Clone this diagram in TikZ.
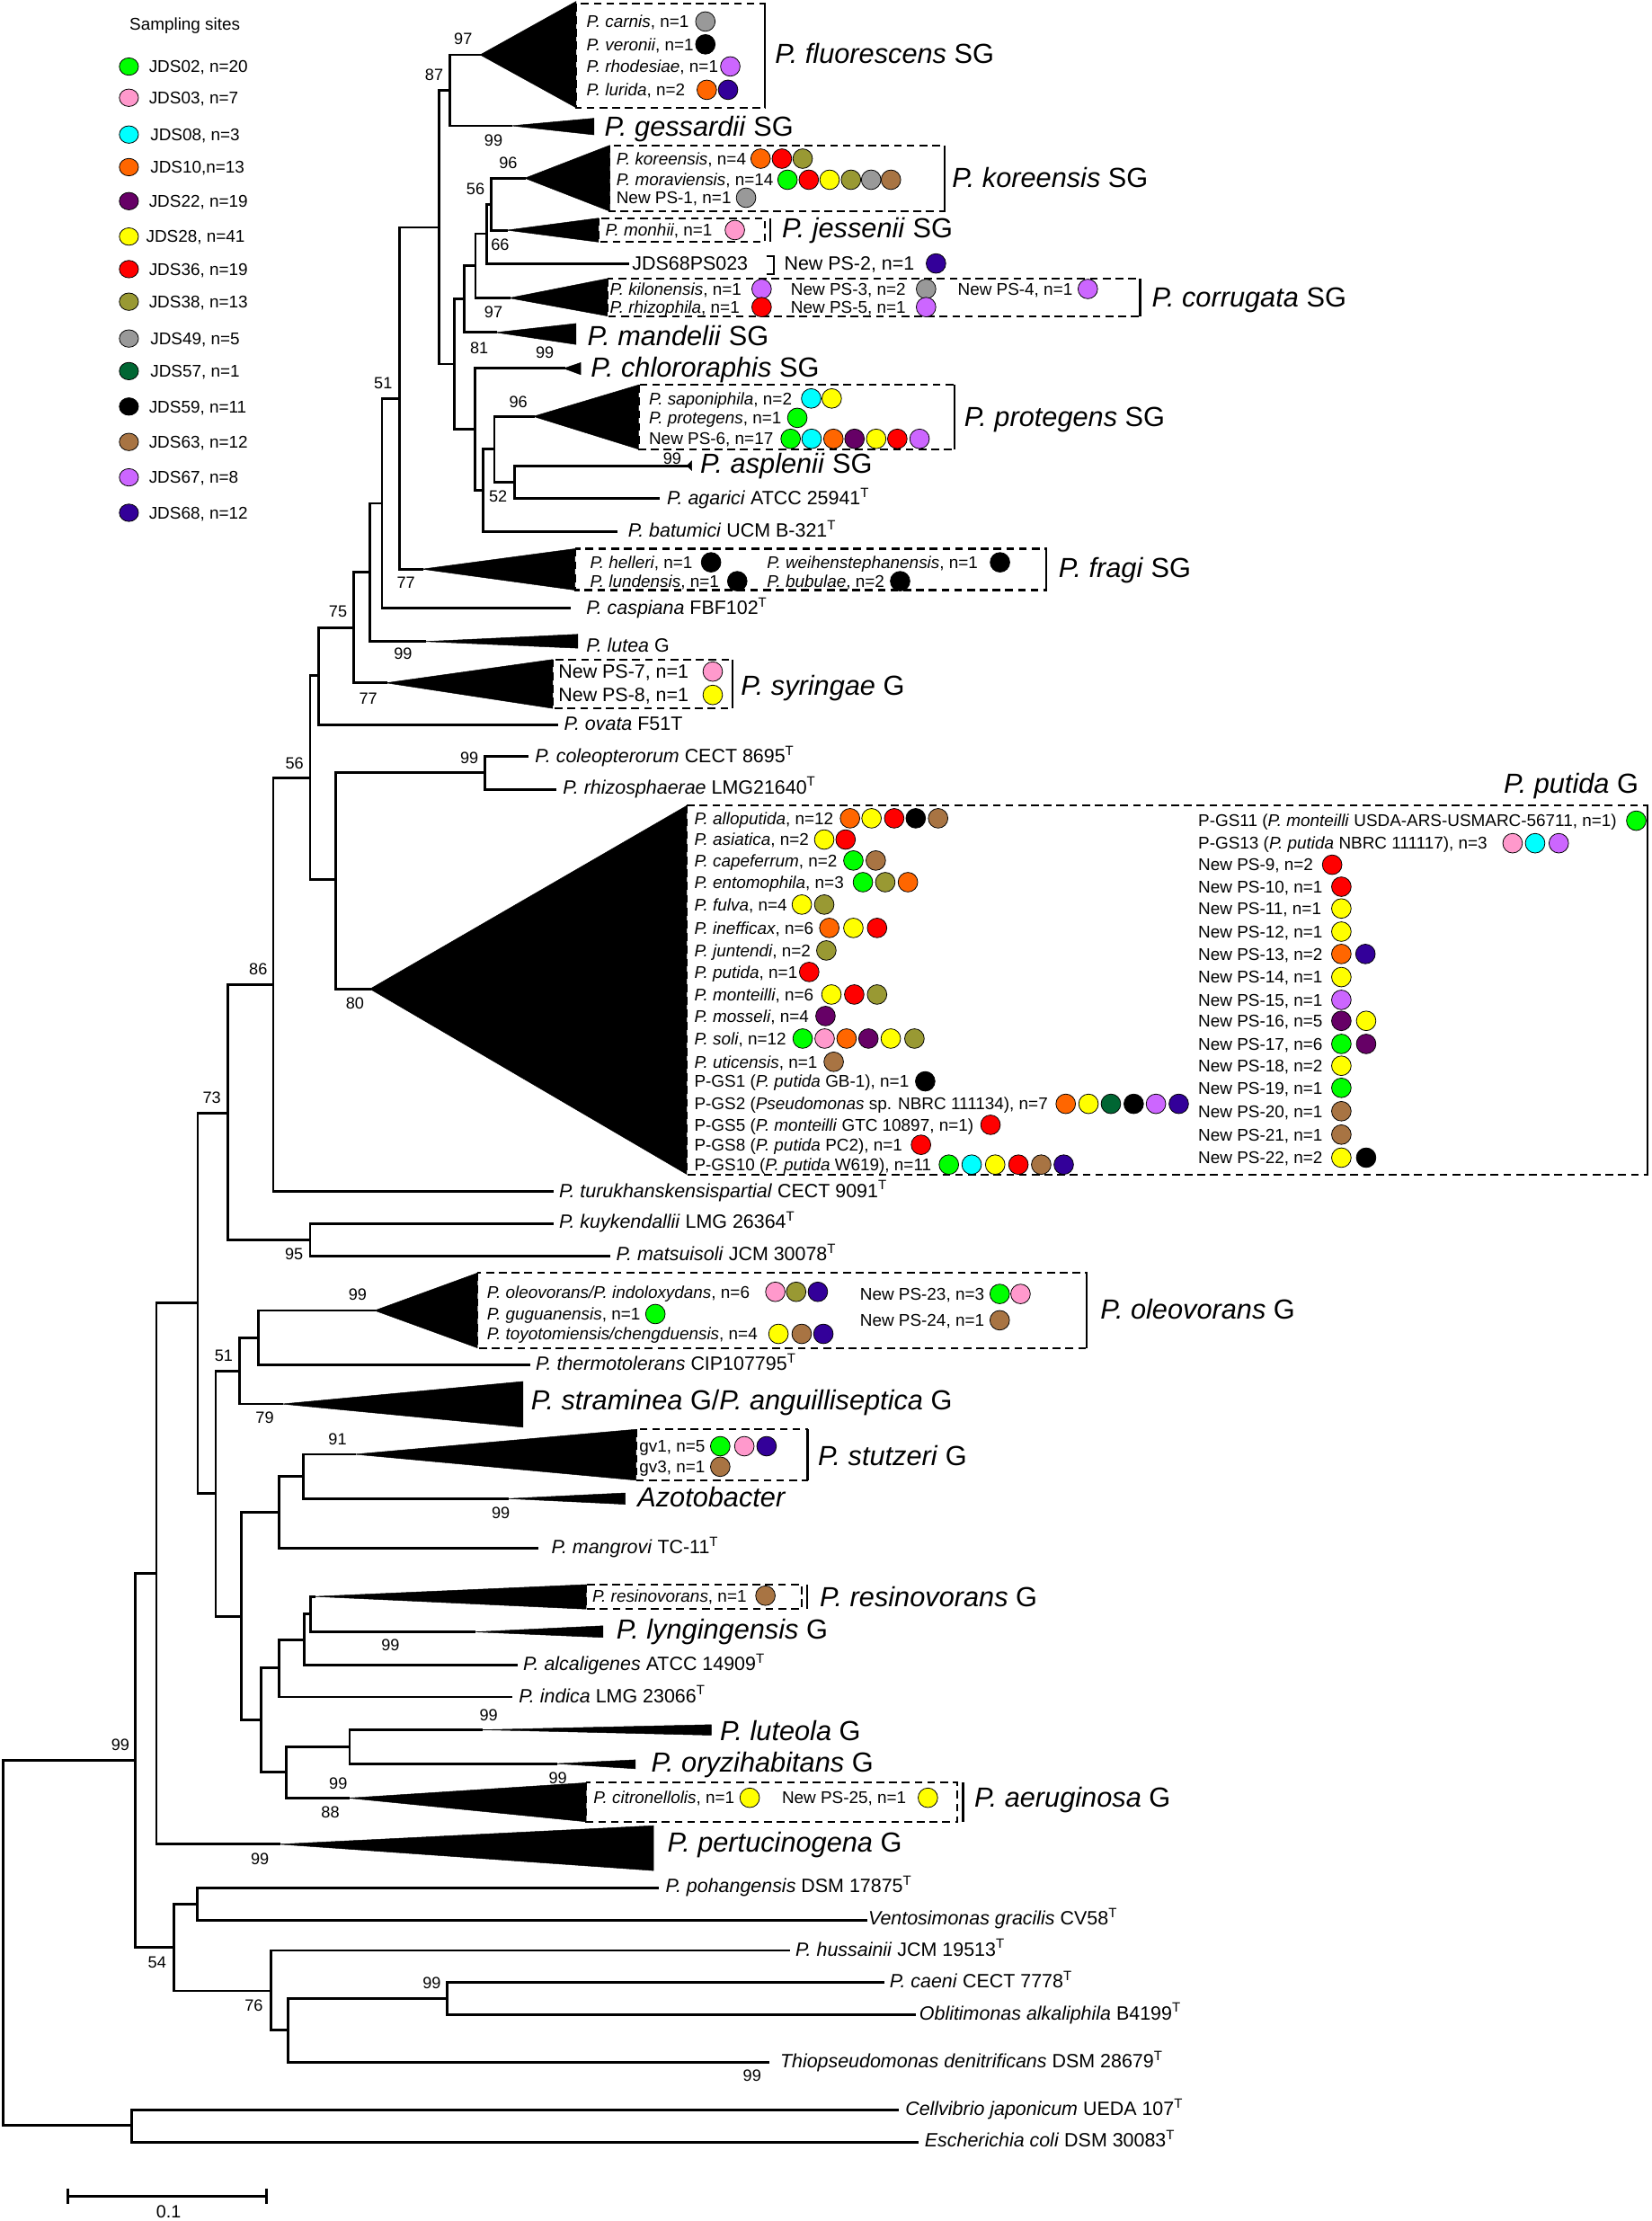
\documentclass[tikz,border=0pt]{standalone}
\usepackage{fontspec}
\setmainfont{Liberation Sans}
\usetikzlibrary{shapes.geometric}

\definecolor{s02}{HTML}{00FF00}
\definecolor{s03}{HTML}{FF99CC}
\definecolor{s08}{HTML}{00FFFF}
\definecolor{s10}{HTML}{FF6600}
\definecolor{s22}{HTML}{660066}
\definecolor{s28}{HTML}{FFFF00}
\definecolor{s36}{HTML}{FF0000}
\definecolor{s38}{HTML}{999933}
\definecolor{s49}{HTML}{999999}
\definecolor{s57}{HTML}{006633}
\definecolor{s59}{HTML}{000000}
\definecolor{s63}{HTML}{A87443}
\definecolor{s67}{HTML}{CC66FF}
\definecolor{s68}{HTML}{330099}

\newcommand{\siterow}[6][rowtext]{%
  \node[#1] (#2) at (#3,#4) {#5};
  \foreach \cx/\cc [count=\ci] in {#6} {\node[site, fill=\cc] (#2-\ci) at (\cx,#4) {};}%
}
\newcommand{\clade}[4]{\filldraw[line width=0.3pt] (#1) -- (#2,#3) -- (#2,#4) -- cycle;}
\newcommand{\grpbox}[5]{%
  \draw[boxline] (#1,#2) rectangle (#3,#4);
  \draw[barline] ({#3+#5},#2) -- ({#3+#5},#4);
}

\begin{document}
\begin{tikzpicture}[x=1pt, y=-1pt,
  branch/.style={line width=1.8pt, line cap=rect},
  boxline/.style={line width=1.3pt, dash pattern=on 5.5pt off 3.5pt},
  barline/.style={line width=1.5pt},
  site/.style={circle, draw=black, line width=0.5pt, minimum size=13.8pt, inner sep=0pt},
  keysite/.style={ellipse, draw=black, line width=0.5pt, minimum width=13.5pt, minimum height=12.3pt, inner sep=0pt},
  bsv/.style={inner sep=0pt, text height=8.2pt, text depth=0pt, font=\fontsize{11.5}{13}\selectfont},
  leaf/.style={anchor=west, inner sep=0pt, text height=9.7pt, text depth=0pt, font=\fontsize{13.6}{15}\selectfont},
  rowtext/.style={anchor=west, inner sep=0pt, text height=8.6pt, text depth=0pt, font=\fontsize{12}{14}\selectfont},
  keytext/.style={anchor=west, inner sep=0pt, text height=8.6pt, text depth=0pt, font=\fontsize{12}{14}\selectfont},
  cladename/.style={anchor=west, inner sep=0pt, text height=14pt, text depth=0pt, font=\fontsize{19.5}{22}\selectfont}]

\useasboundingbox (0,0) rectangle (1166,1568);

% legend
\node[keytext, anchor=center] (keytitle) at (130.5,17) {Sampling sites};
\node[keysite, fill=s02] (key1) at (91,47) {};
\node[keysite, fill=s03] (key2) at (91,69) {};
\node[keysite, fill=s08] (key3) at (91,95) {};
\node[keysite, fill=s10] (key4) at (91,118) {};
\node[keysite, fill=s22] (key5) at (91,142) {};
\node[keysite, fill=s28] (key6) at (91,167) {};
\node[keysite, fill=s36] (key7) at (91,190) {};
\node[keysite, fill=s38] (key8) at (91,213) {};
\node[keysite, fill=s49] (key9) at (91,239) {};
\node[keysite, fill=s57] (key10) at (91,262) {};
\node[keysite, fill=s59] (key11) at (91,287) {};
\node[keysite, fill=s63] (key12) at (91,312) {};
\node[keysite, fill=s67] (key13) at (91,337) {};
\node[keysite, fill=s68] (key14) at (91,362) {};
\node[keytext] (keylab1) at (105,47) {JDS02, n=20};
\node[keytext] (keylab2) at (105,69) {JDS03, n=7};
\node[keytext] (keylab3) at (106,95) {JDS08, n=3};
\node[keytext] (keylab4) at (106,118) {JDS10,n=13};
\node[keytext] (keylab5) at (105,142) {JDS22, n=19};
\node[keytext] (keylab6) at (103,167) {JDS28, n=41};
\node[keytext] (keylab7) at (105,190) {JDS36, n=19};
\node[keytext] (keylab8) at (105,213) {JDS38, n=13};
\node[keytext] (keylab9) at (106,239) {JDS49, n=5};
\node[keytext] (keylab10) at (106,262) {JDS57, n=1};
\node[keytext] (keylab11) at (105,287) {JDS59, n=11};
\node[keytext] (keylab12) at (105,312) {JDS63, n=12};
\node[keytext] (keylab13) at (105,337) {JDS67, n=8};
\node[keytext] (keylab14) at (105,362) {JDS68, n=12};

% internal nodes
\coordinate (root) at (2,1372);
\coordinate (nIn) at (95.6,1242.6);
\coordinate (nOut) at (92.9,1500.5);
\coordinate (nL) at (110.4,1110.9);
\coordinate (nK) at (139.6,920);
\coordinate (nI) at (160.7,786);
\coordinate (nH) at (192.9,695.2);
\coordinate (nF) at (218.9,549.2);
\coordinate (nG) at (236.9,621.1);
\coordinate (nE) at (225.2,477);
\coordinate (nD) at (249.6,443.3);
\coordinate (nC) at (261.2,403.9);
\coordinate (nB) at (269.7,355.3);
\coordinate (nA) at (282.2,281.3);
\coordinate (nUp) at (310,160.5);
\coordinate (nFl) at (317.4,63.8);
\coordinate (nMid) at (321,257);
\coordinate (nMa) at (327.9,211);
\coordinate (nCo) at (335.7,187.5);
\coordinate (nJd) at (343.6,165);
\coordinate (nKo) at (346.8,144.2);
\coordinate (nCh) at (335.3,303);
\coordinate (nBa) at (341.1,346);
\coordinate (nPr) at (349,317.2);
\coordinate (nAs) at (363.5,340.5);
\coordinate (nCl) at (342.3,545.5);
\coordinate (nJ) at (218.9,875.3);
\coordinate (nO) at (152.3,1054.4);
\coordinate (nP) at (168.9,967.8);
\coordinate (nQ) at (182.5,944.4);
\coordinate (nR) at (170.2,1141.2);
\coordinate (nS) at (197.1,1067.6);
\coordinate (nT) at (214,1042.3);
\coordinate (nU) at (184.4,1214);
\coordinate (nV) at (197.1,1177.3);
\coordinate (nW) at (215,1157.5);
\coordinate (nX) at (219.2,1139.6);
\coordinate (nY) at (202.2,1251.1);
\coordinate (nZ) at (246.8,1233.2);
\coordinate (n54) at (122.9,1374.9);
\coordinate (n139) at (139.3,1344.1);
\coordinate (n76) at (191.2,1405.5);
\coordinate (n203) at (203.2,1433.3);
\coordinate (n316) at (315.7,1410.8);

% collapsed clades (apex)
\coordinate (aFlu) at (339,38.7);
\coordinate (aGes) at (361,88.8);
\coordinate (aKor) at (370.5,125.8);
\coordinate (aJes) at (357.8,162.5);
\coordinate (aCor) at (359.4,210.4);
\coordinate (aMan) at (350,234.7);
\coordinate (aChl) at (398,260.1);
\coordinate (aPro) at (376.5,294);
\coordinate (aAsp) at (485,328.8);
\coordinate (aFra) at (298,401.8);
\coordinate (aLut) at (300,452.9);
\coordinate (aSyr) at (272.5,482.1);
\coordinate (aPut) at (261.2,698.2);
\coordinate (aOle) at (264.5,925.2);
\coordinate (aStr) at (199,991.2);
\coordinate (aStu) at (250.2,1026.7);
\coordinate (aAzo) at (358.5,1058);
\coordinate (aRes) at (222,1127.1);
\coordinate (aLyn) at (335,1152.1);
\coordinate (aLuo) at (340,1221.2);
\coordinate (aOry) at (392.5,1245.1);
\coordinate (aAer) at (246,1269.4);
\coordinate (aPer) at (197.1,1302);

% single tips
\coordinate (tCas) at (402,429.3);
\coordinate (tOva) at (393.3,511.9);
\coordinate (tJds) at (443,186.1);
\coordinate (tBat) at (435.3,375.4);
\coordinate (tAga) at (464.8,352.1);
\coordinate (tCol) at (372.5,533.9);
\coordinate (tRhi) at (392.2,557.2);
\coordinate (tTur) at (390.1,841);
\coordinate (tKuy) at (390.1,863.8);
\coordinate (tMat) at (430,886.7);
\coordinate (tThe) at (373.7,963.7);
\coordinate (tMan) at (379,1092.9);
\coordinate (tAlc) at (364.9,1175.3);
\coordinate (tInd) at (360.7,1198);
\coordinate (tPoh) at (464.3,1332.7);
\coordinate (tVen) at (611.7,1355.5);
\coordinate (tHus) at (557,1377);
\coordinate (tCae) at (623.8,1399.4);
\coordinate (tObl) at (645.6,1422.2);
\coordinate (tThi) at (542.4,1456.1);
\coordinate (tCel) at (633.6,1489.8);
\coordinate (tEco) at (647.3,1512.5);

\draw[branch] (root) |- (nIn) (root) |- (nOut);
\draw[branch] (nIn) |- (nL) (nIn) |- (n54);
\draw[branch] (nL) |- (nK) (nL) |- (aPer);
\draw[branch] (nK) |- (nI) (nK) |- (nO);
\draw[branch] (nI) |- (nH) (nI) |- (nJ);
\draw[branch] (nH) |- (nF) (nH) |- (tTur);
\draw[branch] (nF) |- (nE) (nF) |- (nG);
\draw[branch] (nG) |- (nCl) (nG) |- (aPut);
\draw[branch] (nE) |- (nD) (nE) |- (tOva);
\draw[branch] (nD) |- (nC) (nD) |- (aSyr);
\draw[branch] (nC) |- (nB) (nC) |- (aLut);
\draw[branch] (nB) |- (nA) (nB) |- (tCas);
\draw[branch] (nA) |- (nUp) (nA) |- (aFra);
\draw[branch] (nUp) |- (nFl) (nUp) |- (nMid);
\draw[branch] (nFl) |- (aFlu) (nFl) |- (aGes);
\draw[branch] (nMid) |- (nMa) (nMid) |- (nCh);
\draw[branch] (nMa) |- (nCo) (nMa) |- (aMan);
\draw[branch] (nCo) |- (nJd) (nCo) |- (aCor);
\draw[branch] (nJd) |- (nKo) (nJd) |- (tJds);
\draw[branch] (nKo) |- (aKor) (nKo) |- (aJes);
\draw[branch] (nCh) |- (aChl) (nCh) |- (nBa);
\draw[branch] (nBa) |- (nPr) (nBa) |- (tBat);
\draw[branch] (nPr) |- (aPro) (nPr) |- (nAs);
\draw[branch] (nAs) |- (aAsp) (nAs) |- (tAga);
\draw[branch] (nCl) |- (tCol) (nCl) |- (tRhi);
\draw[branch] (nJ) |- (tKuy) (nJ) |- (tMat);
\draw[branch] (nO) |- (nP) (nO) |- (nR);
\draw[branch] (nP) |- (nQ) (nP) |- (aStr);
\draw[branch] (nQ) |- (aOle) (nQ) |- (tThe);
\draw[branch] (nR) |- (nS) (nR) |- (nU);
\draw[branch] (nS) |- (nT) (nS) |- (tMan);
\draw[branch] (nT) |- (aStu) (nT) |- (aAzo);
\draw[branch] (nU) |- (nV) (nU) |- (nY);
\draw[branch] (nV) |- (nW) (nV) |- (tInd);
\draw[branch] (nW) |- (nX) (nW) |- (tAlc);
\draw[branch] (nX) |- (aRes) (nX) |- (aLyn);
\draw[branch] (nY) |- (nZ) (nY) |- (aAer);
\draw[branch] (nZ) |- (aLuo) (nZ) |- (aOry);
\draw[branch] (n54) |- (n139) (n54) |- (n76);
\draw[branch] (n139) |- (tPoh) (n139) |- (tVen);
\draw[branch] (n76) |- (tHus) (n76) |- (n203);
\draw[branch] (n203) |- (n316) (n203) |- (tThi);
\draw[branch] (n316) |- (tCae) (n316) |- (tObl);
\draw[branch] (nOut) |- (tCel) (nOut) |- (tEco);

\clade{aFlu}{406.7}{1}{76}
\clade{aGes}{419.4}{83.5}{95.2}
\clade{aKor}{430.4}{102.6}{149.1}
\clade{aJes}{422.5}{154}{170.9}
\clade{aCor}{428.8}{196.7}{223.1}
\clade{aMan}{406.7}{228.4}{243.2}
\clade{aChl}{410}{256}{264.5}
\clade{aPro}{451}{271.7}{317.2}
\clade{aAsp}{488.3}{325.5}{332}
\clade{aFra}{405.9}{387.4}{416.6}
\clade{aLut}{407.9}{447.8}{457.6}
\clade{aSyr}{390.2}{465.6}{500.1}
\clade{aPut}{484.8}{568.8}{829}
\clade{aOle}{337.1}{898.7}{951.6}
\clade{aStr}{369.3}{975.3}{1007.6}
\clade{aStu}{449}{1009.1}{1045}
\clade{aAzo}{441.4}{1054}{1062}
\clade{aRes}{413.8}{1118.7}{1136}
\clade{aLyn}{425.7}{1147.8}{1156}
\clade{aLuo}{502.1}{1217.6}{1225}
\clade{aOry}{448.6}{1242.4}{1248.7}
\clade{aAer}{413.8}{1258.6}{1286.1}
\clade{aPer}{461.4}{1288.9}{1320.6}

\grpbox{406.7}{2.5}{540.2}{76}{0}
\grpbox{430.4}{102.6}{667}{149.1}{0}
\grpbox{422.5}{154}{540}{170.9}{4}
\grpbox{428.8}{196.7}{805}{223.1}{0}
\grpbox{451}{271.7}{674}{317.2}{0}
\grpbox{405.9}{387.4}{738.7}{416.6}{0}
\grpbox{390.2}{465.6}{517}{500.1}{0}
\grpbox{484.8}{568.8}{1163.2}{829.2}{0}
\grpbox{337.1}{898.7}{767}{951.6}{0}
\grpbox{449}{1009.1}{570.1}{1045}{0}
\grpbox{413.8}{1118.7}{566}{1136}{4}
\grpbox{413.8}{1258.6}{676}{1286.1}{4}
\draw[barline] (541,181) -- (546.5,181) -- (546.5,193.5) -- (541,193.5);

% group names
\node[cladename] (gFlu) at (547,38) {\textit{P. fluorescens} SG};
\node[cladename] (gGes) at (426.6,89) {\textit{P. gessardii} SG};
\node[cladename] (gKor) at (672,125.5) {\textit{P. koreensis} SG};
\node[cladename] (gJes) at (552,161) {\textit{P. jessenii} SG};
\node[cladename] (gCor) at (813,210) {\textit{P. corrugata} SG};
\node[cladename] (gMan) at (414.6,237) {\textit{P. mandelii} SG};
\node[cladename] (gChl) at (417,259) {\textit{P. chlororaphis} SG};
\node[cladename] (gPro) at (680.6,294) {\textit{P. protegens} SG};
\node[cladename] (gAsp) at (494.2,327) {\textit{P. asplenii} SG};
\node[cladename] (gFra) at (747.3,400.5) {\textit{P. fragi} SG};
\node[cladename] (gSyr) at (522.9,484) {\textit{P. syringae} G};
\node[cladename, anchor=east] (gPut) at (1157,553) {\textit{P. putida} G};
\node[cladename] (gOle) at (776.8,924) {\textit{P. oleovorans} G};
\node[cladename] (gStr) at (374.8,988.6) {\textit{P. straminea} G/\textit{P. anguilliseptica} G};
\node[cladename] (gStu) at (577.3,1027.7) {\textit{P. stutzeri} G};
\node[cladename] (gAzo) at (449.9,1057) {\textit{Azotobacter}};
\node[cladename] (gRes) at (578.6,1127) {\textit{P. resinovorans} G};
\node[cladename] (gLyn) at (435,1150) {\textit{P. lyngingensis} G};
\node[cladename] (gLuo) at (508.1,1222) {\textit{P. luteola} G};
\node[cladename] (gOry) at (459.6,1244) {\textit{P. oryzihabitans} G};
\node[cladename] (gAer) at (687.8,1269) {\textit{P. aeruginosa} G};
\node[cladename] (gPer) at (471.1,1300.5) {\textit{P. pertucinogena} G};

% tip names
\node[leaf] (lCas) at (413.7,429) {\textit{P. caspiana} FBF102\textsuperscript{T}};
\node[leaf] (lLut) at (413.7,455.5) {\textit{P. lutea} G};
\node[leaf] (lOva) at (398,510.5) {\textit{P. ovata} F51T};
\node[leaf] (lCol) at (377.6,533.5) {\textit{P. coleopterorum} CECT 8695\textsuperscript{T}};
\node[leaf] (lRhi) at (397.3,555.5) {\textit{P. rhizosphaerae} LMG21640\textsuperscript{T}};
\node[leaf] (lBat) at (443.2,374.5) {\textit{P. batumici} UCM B-321\textsuperscript{T}};
\node[leaf] (lAga) at (470.7,351.5) {\textit{P. agarici} ATCC 25941\textsuperscript{T}};
\node[leaf] (lJds) at (446.2,186) {JDS68PS023};
\node[leaf] (lTur) at (394.5,840.5) {\textit{P. turukhanskensispartial} CECT 9091\textsuperscript{T}};
\node[leaf] (lKuy) at (394.5,862.5) {\textit{P. kuykendallii} LMG 26364\textsuperscript{T}};
\node[leaf] (lMat) at (434.9,885) {\textit{P. matsuisoli} JCM 30078\textsuperscript{T}};
\node[leaf] (lThe) at (378.1,962.5) {\textit{P. thermotolerans} CIP107795\textsuperscript{T}};
\node[leaf] (lMan) at (389.1,1092) {\textit{P. mangrovi} TC-11\textsuperscript{T}};
\node[leaf] (lAlc) at (369.2,1174.5) {\textit{P. alcaligenes} ATCC 14909\textsuperscript{T}};
\node[leaf] (lInd) at (366.2,1197) {\textit{P. indica} LMG 23066\textsuperscript{T}};
\node[leaf] (lPoh) at (469.7,1331.5) {\textit{P. pohangensis} DSM 17875\textsuperscript{T}};
\node[leaf] (lVen) at (612.8,1354) {\textit{Ventosimonas gracilis} CV58\textsuperscript{T}};
\node[leaf] (lHus) at (561.5,1376) {\textit{P. hussainii} JCM 19513\textsuperscript{T}};
\node[leaf] (lCae) at (628,1398.5) {\textit{P. caeni} CECT 7778\textsuperscript{T}};
\node[leaf] (lObl) at (648.9,1421) {\textit{Oblitimonas alkaliphila} B4199\textsuperscript{T}};
\node[leaf] (lThi) at (550.6,1455) {\textit{Thiopseudomonas denitrificans} DSM 28679\textsuperscript{T}};
\node[leaf] (lCel) at (639,1488.5) {\textit{Cellvibrio japonicum} UEDA 107\textsuperscript{T}};
\node[leaf] (lEco) at (652.7,1511) {\textit{Escherichia coli} DSM 30083\textsuperscript{T}};

% isolates per clade
\siterow{rCar}{414}{15.2}{\textit{P. carnis}, n=1}{498/s49}
\siterow{rVer}{414}{31.3}{\textit{P. veronii}, n=1}{498/s59}
\siterow{rRho}{414}{46.9}{\textit{P. rhodesiae}, n=1}{515.6/s67}
\siterow{rLur}{414}{63.4}{\textit{P. lurida}, n=2}{499/s10, 514/s68}
\siterow{rKor}{435}{112}{\textit{P. koreensis}, n=4}{537/s10, 552/s36, 566.7/s38}
\siterow{rMor}{435}{126.9}{\textit{P. moraviensis}, n=14}{556/s02, 571/s36, 585.7/s28, 600.8/s38, 615/s49, 629/s63}
\siterow{rPs1}{435}{139.6}{New PS-1, n=1}{526.7/s49}
\siterow{rMon}{427.2}{162.4}{\textit{P. monhii}, n=1}{518.8/s03}
\siterow[leaf]{rPs2}{553.5}{186}{New PS-2, n=1}{660.8/s68}
\siterow{rKil}{430.4}{204}{\textit{P. kilonensis}, n=1}{537.7/s67}
\siterow{rRhz}{430.4}{216.8}{\textit{P. rhizophila}, n=1}{537.7/s36}
\siterow{rPs3}{558.2}{204}{New PS-3, n=2}{653.8/s49}
\siterow{rPs5}{558.2}{216.8}{New PS-5, n=1}{653.8/s67}
\siterow{rPs4}{676}{204}{New PS-4, n=1}{768/s67}
\siterow{rSap}{458}{281.3}{\textit{P. saponiphila}, n=2}{572.7/s08, 587.2/s28}
\siterow{rPrt}{458}{295}{\textit{P. protegens}, n=1}{562.9/s02}
\siterow{rPs6}{458}{309.8}{New PS-6, n=17}{558.2/s02, 573/s08, 588.4/s10, 603.3/s22, 618.6/s28, 633.5/s36, 649.2/s67}
\siterow{rHel}{416.5}{397}{\textit{P. helleri}, n=1}{502/s59}
\siterow{rLun}{416.5}{410.3}{\textit{P. lundensis}, n=1}{520.5/s59}
\siterow{rWei}{541.3}{397}{\textit{P. weihenstephanensis}, n=1}{706/s59}
\siterow{rBub}{541.3}{410.3}{\textit{P. bubulae}, n=2}{635.5/s59}
\siterow[leaf]{rPs7}{394.1}{474.1}{New PS-7, n=1}{503.2/s03}
\siterow[leaf]{rPs8}{394.1}{490.6}{New PS-8, n=1}{503.2/s28}

\siterow{rAll}{490}{577.7}{\textit{P. alloputida}, n=12}{600.1/s10, 615.3/s28, 631.3/s36, 646.5/s59, 662.3/s63}
\siterow{rAsi}{490}{592.7}{\textit{P. asiatica}, n=2}{581.9/s28, 597/s36}
\siterow{rCap}{490}{607.5}{\textit{P. capeferrum}, n=2}{602.5/s02, 618.3/s63}
\siterow{rEnt}{490}{622.8}{\textit{P. entomophila}, n=3}{609.2/s02, 625/s38, 641/s10}
\siterow{rFul}{490}{638.6}{\textit{P. fulva}, n=4}{566.1/s28, 581.9/s38}
\siterow{rIne}{490}{655.1}{\textit{P. inefficax}, n=6}{585.5/s10, 602.5/s28, 619.2/s36}
\siterow{rJun}{490}{671}{\textit{P. juntendi}, n=2}{583.4/s38}
\siterow{rPut}{490}{686.2}{\textit{P. putida}, n=1}{571.3/s36}
\siterow{rMnt}{490}{702.1}{\textit{P. monteilli}, n=6}{587/s28, 603.1/s36, 619.2/s38}
\siterow{rMos}{490}{717.3}{\textit{P. mosseli}, n=4}{582.8/s22}
\siterow{rSol}{490}{733.2}{\textit{P. soli}, n=12}{566.7/s02, 582.2/s03, 597.7/s10, 613.1/s22, 628.9/s28, 645.6/s38}
\siterow{rUti}{490}{749.6}{\textit{P. uticensis}, n=1}{588.6/s63}
\siterow{rGs1}{490}{763.4}{P-GS1 (\textit{P. putida} GB-1), n=1}{653.2/s59}
\siterow{rGs2}{490}{779.3}{P-GS2 (\textit{Pseudomonas} sp. NBRC 111134), n=7}{752.4/s10, 768.5/s28, 784.3/s57, 800.4/s59, 816.1/s67, 832.2/s68}
\siterow{rGs5}{490}{794.1}{P-GS5 (\textit{P. monteilli} GTC 10897, n=1)}{699.3/s36}
\siterow{rGs8}{490}{808.2}{P-GS8 (\textit{P. putida} PC2), n=1}{650.2/s36}
\siterow{rGs10}{490}{822.2}{P-GS10 (\textit{P. putida} W619), n=11}{669.9/s02, 686/s08, 702.6/s28, 719/s36, 735.1/s63, 751/s68}

\siterow{rGs11}{845.8}{579.4}{P-GS11 (\textit{P. monteilli} USDA-ARS-USMARC-56711, n=1)}{1155.2/s02}
\siterow{rGs13}{845.8}{595.3}{P-GS13 (\textit{P. putida} NBRC 111117), n=3}{1067.9/s03, 1083.8/s08, 1100.5/s67}
\siterow{rPs9}{845.8}{610.5}{New PS-9, n=2}{940.5/s36}
\siterow{rPs10}{845.8}{626}{New PS-10, n=1}{947/s36}
\siterow{rPs11}{845.8}{641.4}{New PS-11, n=1}{947/s28}
\siterow{rPs12}{845.8}{657.7}{New PS-12, n=1}{947/s28}
\siterow{rPs13}{845.8}{673.5}{New PS-13, n=2}{947/s10, 964/s68}
\siterow{rPs14}{845.8}{689.8}{New PS-14, n=1}{947/s28}
\siterow{rPs15}{845.8}{705.9}{New PS-15, n=1}{947/s67}
\siterow{rPs16}{845.8}{720.7}{New PS-16, n=5}{947/s22, 964.5/s28}
\siterow{rPs17}{845.8}{737}{New PS-17, n=6}{947/s02, 964.5/s22}
\siterow{rPs18}{845.8}{752.4}{New PS-18, n=2}{947/s28}
\siterow{rPs19}{845.8}{768}{New PS-19, n=1}{947/s02}
\siterow{rPs20}{845.8}{784.5}{New PS-20, n=1}{947/s63}
\siterow{rPs21}{845.8}{801}{New PS-21, n=1}{947/s63}
\siterow{rPs22}{845.8}{817.3}{New PS-22, n=2}{947/s28, 964.5/s59}

\siterow{rOle}{343.7}{912}{\textit{P. oleovorans/P. indoloxydans}, n=6}{547.4/s03, 562.1/s38, 577.4/s68}
\siterow{rGug}{343.7}{927.7}{\textit{P. guguanensis}, n=1}{462.7/s02}
\siterow{rToy}{343.7}{941.7}{\textit{P. toyotomiensis/chengduensis}, n=4}{549.6/s28, 566/s63, 581.3/s68}
\siterow{rPs23}{607}{913.5}{New PS-23, n=3}{705.8/s02, 720.5/s03}
\siterow{rPs24}{607}{932.1}{New PS-24, n=1}{705.8/s63}
\siterow{rGv1}{451.2}{1021}{gv1, n=5}{508.5/s02, 525.5/s03, 541.2/s68}
\siterow{rGv3}{451.2}{1035.5}{gv3, n=1}{508.5/s63}
\siterow{rRsv}{418}{1126.5}{\textit{P. resinovorans}, n=1}{540.4/s63}
\siterow{rCit}{418.9}{1269.2}{\textit{P. citronellolis}, n=1}{529.3/s28}
\siterow{rPs25}{551.9}{1269.2}{New PS-25, n=1}{655.1/s28}

% bootstrap values
\node[bsv] (bs1) at (327,27.5) {97};
\node[bsv] (bs2) at (306.5,53) {87};
\node[bsv] (bs3) at (348.4,98.8) {99};
\node[bsv] (bs4) at (358.8,114.8) {96};
\node[bsv] (bs5) at (335.7,133.2) {56};
\node[bsv] (bs6) at (353.1,172.4) {66};
\node[bsv] (bs7) at (348.4,220) {97};
\node[bsv] (bs8) at (338.3,245.3) {81};
\node[bsv] (bs9) at (384.6,248.5) {99};
\node[bsv] (bs10) at (270.5,270.3) {51};
\node[bsv] (bs11) at (365.9,283.4) {96};
\node[bsv] (bs12) at (474.6,323.5) {99};
\node[bsv] (bs13) at (351.7,350.6) {52};
\node[bsv] (bs14) at (286.6,411) {77};
\node[bsv] (bs15) at (238.6,431.8) {75};
\node[bsv] (bs16) at (284.5,461.5) {99};
\node[bsv] (bs17) at (259.9,493) {77};
\node[bsv] (bs18) at (207.9,538.5) {56};
\node[bsv] (bs19) at (331.3,535) {99};
\node[bsv] (bs20) at (182.3,684) {86};
\node[bsv] (bs21) at (250.6,708) {80};
\node[bsv] (bs22) at (149.5,774.5) {73};
\node[bsv] (bs23) at (207.6,885) {95};
\node[bsv] (bs24) at (252.5,914) {99};
\node[bsv] (bs25) at (158,957) {51};
\node[bsv] (bs26) at (186.9,1001) {79};
\node[bsv] (bs27) at (238.3,1016) {91};
\node[bsv] (bs28) at (353.5,1068) {99};
\node[bsv] (bs29) at (275.7,1161.5) {99};
\node[bsv] (bs30) at (345,1210.6) {99};
\node[bsv] (bs31) at (238.8,1259) {99};
\node[bsv] (bs32) at (393.8,1255) {99};
\node[bsv] (bs33) at (233.2,1279.4) {88};
\node[bsv] (bs34) at (183.5,1312) {99};
\node[bsv] (bs35) at (85,1231.5) {99};
\node[bsv] (bs36) at (110.9,1385) {54};
\node[bsv] (bs37) at (179.2,1416) {76};
\node[bsv] (bs38) at (304.8,1400) {99};
\node[bsv] (bs39) at (531,1465) {99};

% scale bar
\coordinate (sbL) at (48,1550.5);
\coordinate (sbR) at (188.4,1550.5);
\draw[branch] (sbL) -- (sbR);
\draw[branch] ([yshift=4.5pt]sbL) -- ([yshift=-4.5pt]sbL);
\draw[branch] ([yshift=4.5pt]sbR) -- ([yshift=-4.5pt]sbR);
\node[bsv, font=\fontsize{12.5}{14}\selectfont] (sbText) at (119,1561.6) {0.1};

\end{tikzpicture}
\end{document}
